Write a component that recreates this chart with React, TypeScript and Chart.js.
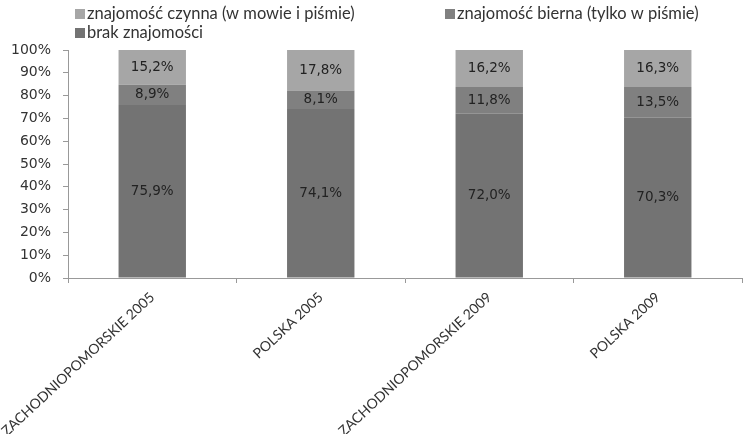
import { useEffect, useRef } from "react";
import { Chart, registerables } from "chart.js";
Chart.register(...registerables);

const categories = ["ZACHODNIOPOMORSKIE 2005", "POLSKA 2005", "ZACHODNIOPOMORSKIE 2009", "POLSKA 2009"];
const brakValues = [75.9, 74.1, 72.0, 70.3];
const biernaValues = [8.9, 8.1, 11.8, 13.5];
const czynnaValues = [15.2, 17.8, 16.2, 16.3];
const seriesLabels = ["brak znajomości", "znajomość bierna (tylko w piśmie)", "znajomość czynna (w mowie i piśmie)"];

const FONT = "Lato, 'Open Sans', sans-serif";
const NUMFONT = "'DejaVu Sans', Verdana, sans-serif";

const valueLabels = {
  id: "valueLabels",
  afterDatasetsDraw(chart: any) {
    const ctx = chart.ctx;
    ctx.save();
    ctx.font = `13.5px ${NUMFONT}`;
    ctx.fillStyle = "#222";
    ctx.textAlign = "center";
    ctx.textBaseline = "middle";
    chart.data.datasets.forEach((ds: any, di: number) => {
      const meta = chart.getDatasetMeta(di);
      meta.data.forEach((el: any, i: number) => {
        const v = ds.data[i];
        const y = (el.y + el.base) / 2;
        ctx.fillText(v.toFixed(1).replace(".", ",") + "%", el.x, y);
      });
    });
    ctx.restore();
  },
};

const customLegend = {
  id: "customLegend",
  afterDraw(chart: any) {
    const ctx = chart.ctx;
    const ds = chart.data.datasets;
    const items = [
      { d: ds[2], x: 75, y: 14 },
      { d: ds[1], x: 445, y: 14 },
      { d: ds[0], x: 75, y: 33 },
    ];
    ctx.save();
    ctx.font = `16.5px ${FONT}`;
    ctx.textBaseline = "middle";
    ctx.textAlign = "left";
    items.forEach((it) => {
      ctx.fillStyle = it.d.backgroundColor;
      ctx.fillRect(it.x, it.y - 5, 10, 10);
      ctx.fillStyle = "#333";
      ctx.fillText(it.d.label, it.x + 12, it.y);
    });
    ctx.restore();
  },
};

export default function App() {
  const ref = useRef<HTMLCanvasElement>(null);
  useEffect(() => {
    if (!ref.current) return;
    const chart = new Chart(ref.current, {
      type: "bar",
      data: {
        labels: categories,
        datasets: [
          { label: seriesLabels[0], data: brakValues, backgroundColor: "#737373" },
          { label: seriesLabels[1], data: biernaValues, backgroundColor: "#808080" },
          { label: seriesLabels[2], data: czynnaValues, backgroundColor: "#a6a6a6" },
        ],
      },
      options: {
        animation: false,
        responsive: true,
        maintainAspectRatio: false,
        layout: { padding: { top: 50, right: 1, left: 0, bottom: 0 } },
        plugins: { legend: { display: false }, tooltip: { enabled: false } },
        datasets: { bar: { barPercentage: 0.4, categoryPercentage: 1, borderWidth: 0 } },
        scales: {
          x: {
            stacked: true,
            afterFit: (s: any) => { s.height = 156; s.paddingLeft = 0; s.paddingRight = 0; },
            grid: { display: true, offset: true, drawOnChartArea: false, drawTicks: true, tickLength: 5, color: "#999" },
            border: { display: true, color: "#999" },
            ticks: { minRotation: 43, maxRotation: 43, color: "#333", font: { family: FONT, size: 14 }, padding: 6 },
          },
          y: {
            stacked: true,
            min: 0,
            max: 100,
            afterFit: (s: any) => { s.width = 68; s.paddingTop = 0; s.paddingBottom = 0; },
            grid: { display: true, drawOnChartArea: false, drawTicks: true, tickLength: 5, color: "#999" },
            border: { display: true, color: "#999" },
            ticks: { stepSize: 10, color: "#333", font: { family: NUMFONT, size: 14 }, padding: 12, callback: (v: any) => v + "%" },
          },
        },
      },
      plugins: [valueLabels, customLegend],
    });
    return () => chart.destroy();
  }, []);
  return (
    <div style={{ position: "fixed", left: 0, top: 0, width: 743, height: 434, background: "#fff" }}>
      <canvas ref={ref} />
    </div>
  );
}
